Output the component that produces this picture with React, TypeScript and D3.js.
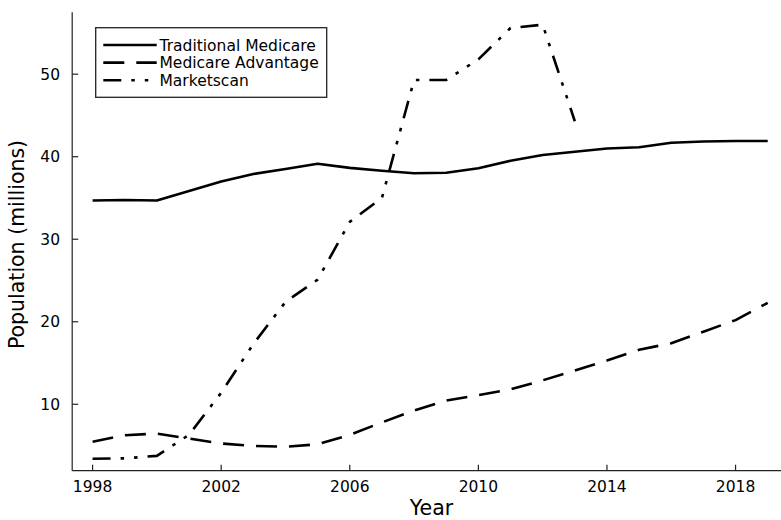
import * as d3 from "d3";
import React from "react";

const years = d3.range(1998, 2020);
const traditional = [34.7, 34.75, 34.7, 35.85, 37.0, 37.9, 38.5, 39.15, 38.65, 38.3, 38.0, 38.05, 38.6, 39.5, 40.2, 40.6, 41.0, 41.15, 41.7, 41.85, 41.9, 41.9];
const advantage = [5.45, 6.25, 6.45, 5.85, 5.25, 4.95, 4.85, 5.15, 6.3, 7.8, 9.25, 10.45, 11.1, 11.8, 12.9, 14.1, 15.3, 16.6, 17.4, 18.8, 20.2, 22.3];
const marketscanYears = d3.range(1998, 2014);
const marketscan = [3.4, 3.45, 3.75, 6.3, 11.4, 17.3, 22.4, 25.1, 32.1, 35.0, 49.3, 49.3, 51.8, 55.6, 56.0, 44.3];
const xTicks = [1998, 2002, 2006, 2010, 2014, 2018];
const yTicks = [10, 20, 30, 40, 50];
const seriesNames = ["Traditional Medicare", "Medicare Advantage", "Marketscan"];

const width = 781;
const height = 520;
const font = "'DejaVu Sans', sans-serif";

const x = d3.scaleLinear().domain([1997.366, 2019.634]).range([72.2, 788.1]);
const y = d3.scaleLinear().domain([1.95, 57.5]).range([470.7, 12.3]);

const dashes = ["none", "21 12", "18 10 3.5 10 3.5 10"];

export default function App() {
  const line = d3
    .line<[number, number]>()
    .x((d) => x(d[0]))
    .y((d) => y(d[1]));

  const series = [
    years.map((yr, i) => [yr, traditional[i]] as [number, number]),
    years.map((yr, i) => [yr, advantage[i]] as [number, number]),
    marketscanYears.map((yr, i) => [yr, marketscan[i]] as [number, number]),
  ];

  const [x0, x1] = x.range();
  const [yb, yt] = y.range();

  return (
    <svg
      width={width}
      height={height}
      style={{ position: "absolute", left: 0, top: 0, background: "#fff" }}
      fontFamily={font}
    >
      {/* lines */}
      {series.map((s, i) => (
        <path
          key={i}
          d={line(s) || ""}
          fill="none"
          stroke="#000"
          strokeWidth={2.6}
          strokeLinejoin="round"
          strokeDasharray={dashes[i]}
        />
      ))}

      {/* axes */}
      <line x1={x0} x2={x1} y1={yb} y2={yb} stroke="#222" strokeWidth={1.2} />
      <line x1={x0} x2={x0} y1={yb} y2={yt} stroke="#222" strokeWidth={1.2} />

      {xTicks.map((t) => (
        <g key={t}>
          <line x1={x(t)} x2={x(t)} y1={yb} y2={yb - 6} stroke="#222" strokeWidth={1.2} />
          <text x={x(t)} y={492} textAnchor="middle" fontSize={15.5} fill="#000">
            {t}
          </text>
        </g>
      ))}
      {yTicks.map((t) => (
        <g key={t}>
          <line x1={x0} x2={x0 + 6} y1={y(t)} y2={y(t)} stroke="#222" strokeWidth={1.2} />
          <text x={60} y={y(t) + 5.6} textAnchor="end" fontSize={15.5} fill="#000">
            {t}
          </text>
        </g>
      ))}

      <text x={431.5} y={515} textAnchor="middle" fontSize={20.5} fill="#000">
        Year
      </text>
      <text
        transform={`translate(24, ${(yb + yt) / 2 + 3}) rotate(-90)`}
        textAnchor="middle"
        fontSize={20.5}
        fill="#000"
      >
        Population (millions)
      </text>

      {/* legend */}
      <rect x={95.7} y={27.7} width={231} height={69.6} fill="#fff" stroke="#222" strokeWidth={1.3} />
      {seriesNames.map((name, i) => (
        <g key={name}>
          <line
            x1={103.3}
            x2={156.7}
            y1={45 + i * 17.6}
            y2={45 + i * 17.6}
            stroke="#000"
            strokeWidth={2.6}
            strokeDasharray={dashes[i]}
          />
          <text x={159.5} y={50.7 + i * 17.6} fontSize={15.5} fill="#000">
            {name}
          </text>
        </g>
      ))}
    </svg>
  );
}
